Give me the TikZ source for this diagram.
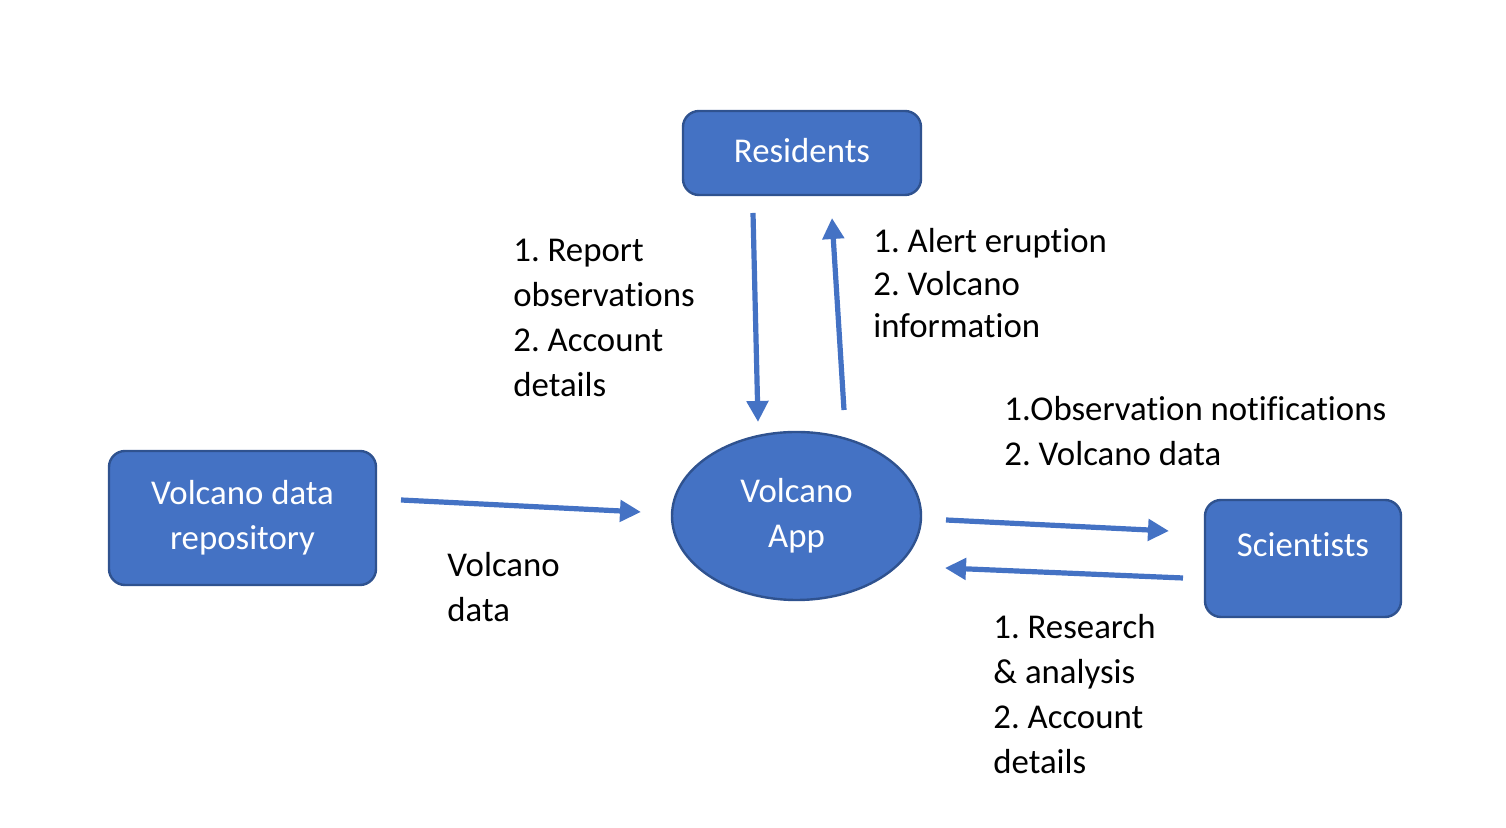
\documentclass[tikz,border=0pt]{standalone}
\usepackage{fontspec}
\setmainfont{Carlito}[Ligatures=CommonOff]
\usepackage{tikz}
\usetikzlibrary{arrows.meta, shapes.geometric, positioning}
\definecolor{officeblue}{RGB}{68,114,196}
\definecolor{officeborder}{RGB}{47,82,143}
\frenchspacing

\begin{document}
\begin{tikzpicture}[
    x=0.5pt, y=0.5pt,
    font=\fontsize{17.4}{22.5}\selectfont,
    entity/.style={rectangle, rounded corners=8pt, draw=officeborder, fill=officeblue, line width=1.2pt, text=white, align=center, inner sep=0pt},
    process/.style={ellipse, draw=officeborder, fill=officeblue, line width=1.2pt, text=white, align=center, inner sep=0pt},
    flow/.style={-{Triangle[length=10.5pt, width=10.5pt]}, line width=2.6pt, officeblue},
    label/.style={align=left, anchor=north west, inner sep=0pt}
]
    \useasboundingbox (0,0) rectangle (1506,828);

    % Nodes
    \node[entity, minimum width=119pt, minimum height=42pt, text height=12pt, text depth=2.4pt] (res) at (802, 675) {Residents};
    \node[entity, minimum width=133.5pt, minimum height=67pt] (repo) at (242.5, 310) {Volcano data\\repository};
    \node[process, minimum width=124.5pt, minimum height=84pt] (app) at (796.5, 312) {Volcano\\App};
    \node[entity, minimum width=98pt, minimum height=58.5pt, text height=12pt, text depth=13.9pt] (sci) at (1303, 269.5) {Scientists};

    % Arrow ends (the arrows stop short of the shapes)
    \coordinate (res-out) at (753, 615);
    \coordinate (app-in-top) at (758, 406);
    \coordinate (app-out-top) at (844, 418);
    \coordinate (res-in) at (832, 610);
    \coordinate (repo-out) at (401, 328);
    \coordinate (app-in-left) at (641, 316);
    \coordinate (app-out-right) at (946, 308);
    \coordinate (sci-in) at (1169, 297);
    \coordinate (sci-out) at (1183, 250);
    \coordinate (app-in-right) at (945, 260);

    % Data flows
    \draw[flow] (res-out) -- (app-in-top);
    \draw[flow] (app-out-top) -- (res-in);
    \draw[flow] (repo-out) -- (app-in-left);
    \draw[flow] (app-out-right) -- (sci-in);
    \draw[flow] (sci-out) -- (app-in-right);

    % Flow labels
    \node[label] (lbl-report) at (513, 589) {1. Report\\observations\\2. Account\\details};
    \node[label, font=\fontsize{17.4}{21.25}\selectfont] (lbl-alert) at (873, 600) {1. Alert eruption\\2. Volcano\\information};
    \node[label] (lbl-obs) at (1004, 432) {1.Observation notifications\\2. Volcano data};
    \node[label] (lbl-data) at (447, 276) {Volcano\\data};
    \node[label] (lbl-research) at (993, 214) {1. Research\\\& analysis\\2. Account\\details};
\end{tikzpicture}
\end{document}
